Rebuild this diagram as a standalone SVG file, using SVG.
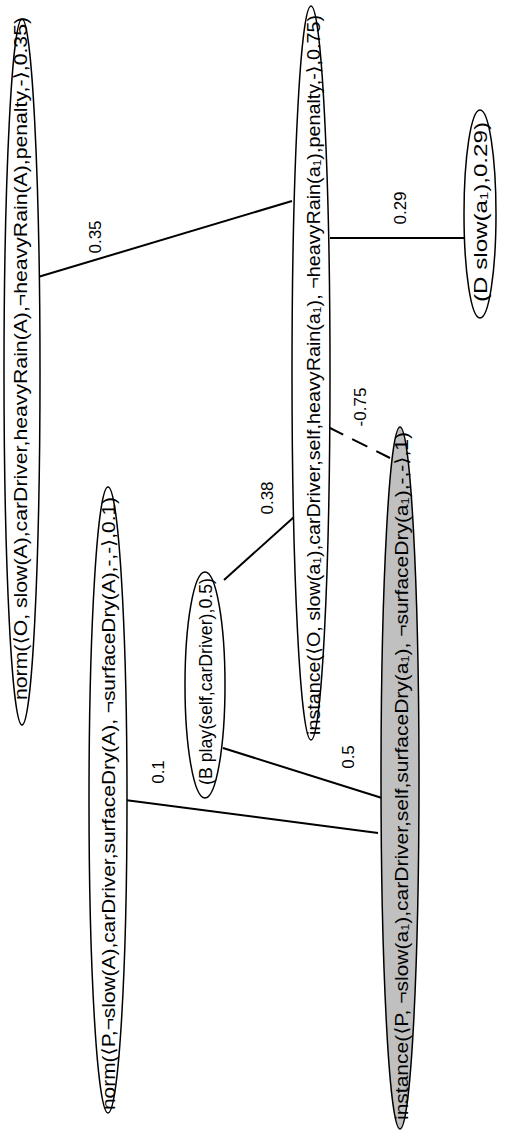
<svg xmlns="http://www.w3.org/2000/svg" width="506" height="1133" viewBox="0 0 506 1133">
<style>
.n{fill:#fff;stroke:#000;stroke-width:1.5}
.g{fill:#c0c0c0;stroke:#000;stroke-width:1.5}
.t{font-family:"Liberation Sans","DejaVu Sans",sans-serif;font-size:18px;fill:#000;dominant-baseline:central}
.c{text-anchor:middle;font-size:17px}
.s{font-size:11px}
.e{stroke:#000;stroke-width:2;fill:none}
.d{stroke-dasharray:17,10}
</style>
<rect width="506" height="1133" fill="#fff"/>
<g id="connectors">
<line class="e" x1="38" y1="277" x2="292" y2="201"/>
<line class="e" x1="330" y1="238" x2="465" y2="238"/>
<line class="e d" x1="328" y1="427" x2="390" y2="458"/>
<line class="e" x1="224" y1="580" x2="294" y2="517"/>
<line class="e" x1="223" y1="748" x2="382" y2="798"/>
<line class="e" x1="125" y1="800" x2="378" y2="833"/>
<text class="t c" transform="translate(95,237) rotate(-90)">0.35</text>
<text class="t c" transform="translate(400,208) rotate(-90)">0.29</text>
<text class="t c" transform="translate(360,407) rotate(-90)">-0.75</text>
<text class="t c" transform="translate(267,498) rotate(-90)">0.38</text>
<text class="t c" transform="translate(348,757) rotate(-90)">0.5</text>
<text class="t c" transform="translate(158,772) rotate(-90)">0.1</text>
</g>
<g id="normO">
<ellipse class="n" cx="22" cy="372" rx="18" ry="353"/>
<text class="t" transform="translate(21,700) rotate(-90)" textLength="683" lengthAdjust="spacingAndGlyphs">norm(⟨O, slow(A),carDriver,heavyRain(A),¬heavyRain(A),penalty,-⟩,0.35)</text>
</g>
<g id="normP">
<ellipse class="n" cx="108" cy="800" rx="19" ry="313"/>
<text class="t" transform="translate(109,1110) rotate(-90)" textLength="613" lengthAdjust="spacingAndGlyphs">norm(⟨P,¬slow(A),carDriver,surfaceDry(A), ¬surfaceDry(A),-,-⟩,0.1)</text>
</g>
<g id="playB">
<ellipse class="n" cx="205" cy="685" rx="20" ry="113"/>
<text class="t" transform="translate(206,785) rotate(-90)" textLength="207" lengthAdjust="spacingAndGlyphs">(B play(self,carDriver),0.5)</text>
</g>
<g id="instO">
<ellipse class="n" cx="311" cy="373" rx="19" ry="367"/>
<text class="t" transform="translate(314,735) rotate(-90)" textLength="720" lengthAdjust="spacingAndGlyphs">instance(⟨O, slow(a<tspan class="s" dy="3">1</tspan><tspan dy="-3">),carDriver,self,heavyRain(a</tspan><tspan class="s" dy="3">1</tspan><tspan dy="-3">), ¬heavyRain(a</tspan><tspan class="s" dy="3">1</tspan><tspan dy="-3">),penalty,-⟩,0.75)</tspan></text>
</g>
<g id="instP">
<ellipse class="g" cx="400" cy="778" rx="19" ry="351"/>
<text class="t" transform="translate(402,1120) rotate(-90)" textLength="688" lengthAdjust="spacingAndGlyphs">instance(⟨P, ¬slow(a<tspan class="s" dy="3">1</tspan><tspan dy="-3">),carDriver,self,surfaceDry(a</tspan><tspan class="s" dy="3">1</tspan><tspan dy="-3">), ¬surfaceDry(a</tspan><tspan class="s" dy="3">1</tspan><tspan dy="-3">),-,-⟩,1)</tspan></text>
</g>
<g id="slowD">
<ellipse class="n" cx="480" cy="214" rx="16" ry="104"/>
<text class="t" transform="translate(481,302) rotate(-90)" textLength="180" lengthAdjust="spacingAndGlyphs">(D slow(a<tspan class="s" dy="3">1</tspan><tspan dy="-3">),0.29)</tspan></text>
</g>
</svg>
